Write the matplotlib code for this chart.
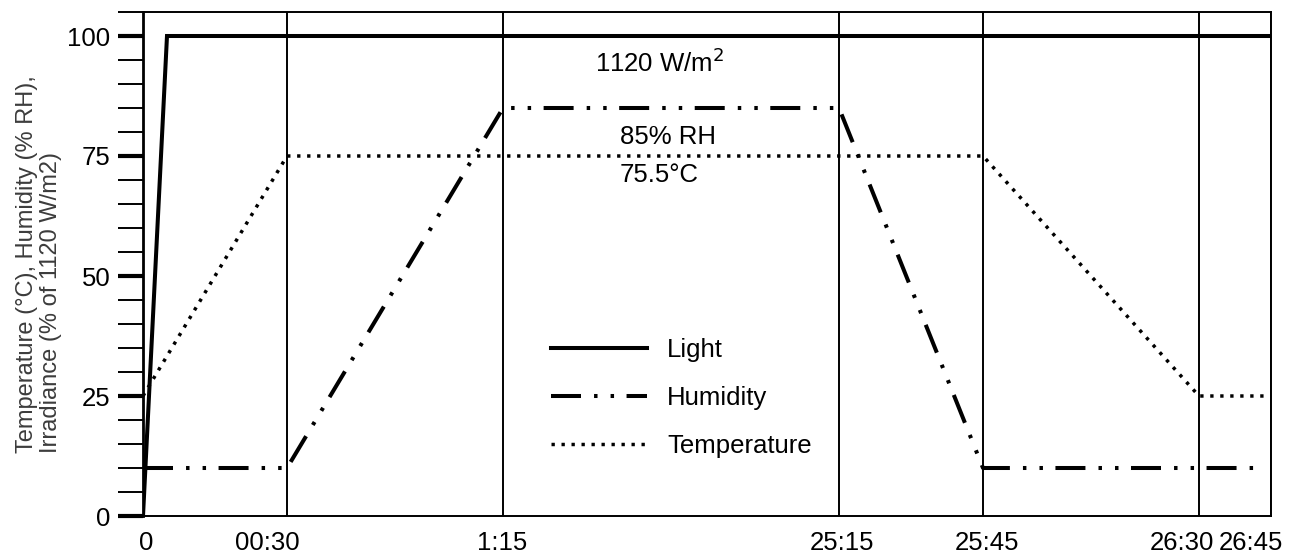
import numpy as np
import matplotlib
matplotlib.use("Agg")
import matplotlib.pyplot as plt
from matplotlib.ticker import MultipleLocator

plt.rcParams["font.family"] = ["Liberation Sans", "DejaVu Sans"]
plt.rcParams["lines.scale_dashes"] = False

# elapsed time in minutes (real time), values in %
light_t = [0, 5, 1605]
light_v = [0, 100, 100]
hum_t = [0, 30, 75, 1515, 1545, 1602]
hum_v = [10, 10, 85, 85, 10, 10]
temp_t = [0, 30, 1545, 1590, 1604]
temp_v = [25, 75, 75, 25, 25]

grid_t = [0, 30, 75, 1515, 1545, 1590, 1605]
tick_labels = ["0", "00:30", "1:15", "25:15", "25:45", "26:30", "26:45"]

# broken time axis: 1:15 -> 25:15 squeezed into 70 "axis minutes"
def tx(t):
    t = np.asarray(t, dtype=float)
    return np.where(t <= 75, t, t - 1440 + 70)

fig = plt.figure(figsize=(12.92, 5.54), dpi=100)
ax = fig.add_axes([143/1292, 1 - 516/554, 1128/1292, 504/554])

for g in grid_t:
    ax.axvline(tx(g), color="black", lw=1.4, zorder=1)

ax.plot(tx(light_t), light_v, color="black", lw=2.9, solid_joinstyle="miter",
        label="Light", zorder=3)
ax.plot(tx(hum_t), hum_v, color="black", lw=2.9, dashes=(21.6, 9.4, 2.5, 9.4, 2.5, 9.0),
        dash_capstyle="butt", label="Humidity", zorder=3)
ax.plot(tx(temp_t), temp_v, color="black", lw=2.5, dashes=(2.4, 4.8),
        dash_capstyle="butt", label="Temperature", zorder=3)

ax.set_xlim(0, 235)
ax.set_ylim(0, 105)

# labels sit slightly off the grid lines in the original
label_pos = [0.6, 25.8, 74.8, 145.6, 175.8, 216.5, 230.8]
ax.set_xticks(label_pos)
ax.set_xticklabels(tick_labels, fontsize=18.5)
ax.tick_params(axis="x", length=0, pad=10.5)

ax.yaxis.set_major_locator(MultipleLocator(25))
ax.yaxis.set_minor_locator(MultipleLocator(5))
ax.tick_params(axis="y", which="major", length=18, width=3, labelsize=18.5, pad=5.5)
ax.tick_params(axis="y", which="minor", length=18, width=1.4)

for s in ["top", "bottom", "right"]:
    ax.spines[s].set_linewidth(1.4)
ax.spines["left"].set_linewidth(2)

# annotations in axis-minute coords
ax.text(107.7, 94.4, "1120 W/m$^2$", fontsize=18.5, ha="center", va="center")
ax.text(109.4, 79.0, "85% RH", fontsize=18.5, ha="center", va="center")
ax.text(107.5, 71.0, "75.5°C", fontsize=18.5, ha="center", va="center")

ax.set_ylabel("Temperature (°C), Humidity (% RH),\nIrradiance (% of 1120 W/m2)",
              fontsize=17, color="#3c3c3c", multialignment="left", labelpad=4,
              linespacing=1.1)

ax.legend(loc="center left", bbox_to_anchor=(0.3617, 0.234), frameon=False,
          fontsize=18.5, handlelength=3.73, handletextpad=0.78, labelspacing=0.92,
          borderpad=0, borderaxespad=0)

fig.savefig("out.png", dpi=100)
